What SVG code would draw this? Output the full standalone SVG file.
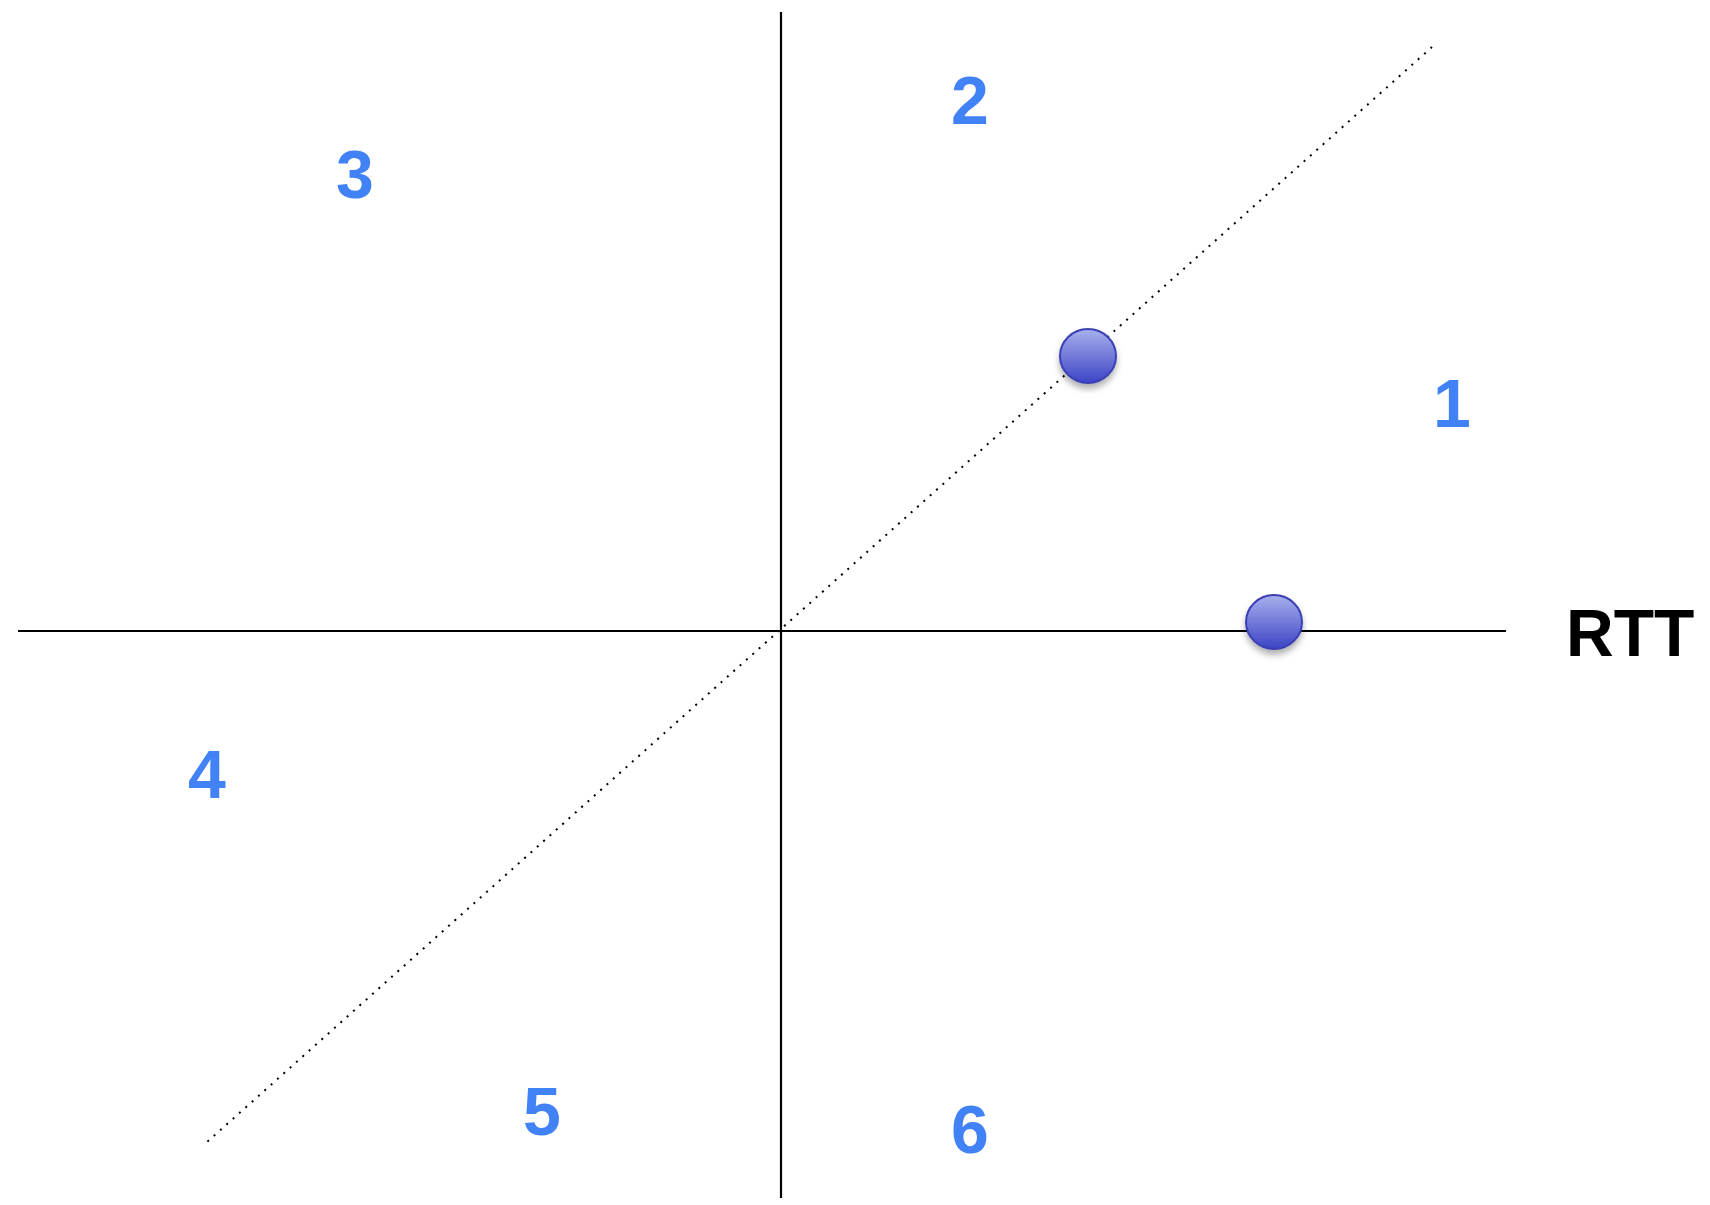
<svg xmlns="http://www.w3.org/2000/svg" width="1710" height="1205" viewBox="0 0 1710 1205">
<style>
.num{font-family:"Liberation Sans",Arial,sans-serif;font-weight:bold;font-size:68px;fill:#4282F7;text-anchor:middle}
.lbl{font-family:"Liberation Sans",Arial,sans-serif;font-weight:bold;font-size:66px;fill:#000}
.axis{stroke:#000;stroke-width:2.2;fill:none}
.dot{stroke:#000;stroke-width:2;stroke-dasharray:2 6.5;fill:none}
.ball{fill:url(#g);stroke:#3b40b3;stroke-width:2;filter:url(#sh)}
</style>
<defs>
<linearGradient id="g" x1="0" y1="0" x2="0" y2="1">
<stop offset="0" stop-color="#a9b0ee"/>
<stop offset="1" stop-color="#3c44c4"/>
</linearGradient>
<filter id="sh" x="-50%" y="-50%" width="200%" height="220%">
<feDropShadow dx="0" dy="5" stdDeviation="3" flood-color="#000" flood-opacity="0.3"/>
</filter>
</defs>
<g id="connectors">
<line class="axis" x1="781" y1="12" x2="781" y2="1198"/>
<line class="axis" x1="18" y1="631" x2="1506" y2="631"/>
<line class="dot" x1="1432" y1="47" x2="207" y2="1142"/>
</g>
<g id="point-a"><ellipse class="ball" cx="1088" cy="356" rx="28" ry="27"/></g>
<g id="point-b"><ellipse class="ball" cx="1274" cy="622" rx="28" ry="27"/></g>
<g id="label-rtt"><text class="lbl" x="1566" y="656">RTT</text></g>
<g id="region-1"><text class="num" x="1452" y="427">1</text></g>
<g id="region-2"><text class="num" x="970" y="124">2</text></g>
<g id="region-3"><text class="num" x="355" y="198">3</text></g>
<g id="region-4"><text class="num" x="207" y="798">4</text></g>
<g id="region-5"><text class="num" x="542" y="1135">5</text></g>
<g id="region-6"><text class="num" x="970" y="1153">6</text></g>
</svg>
